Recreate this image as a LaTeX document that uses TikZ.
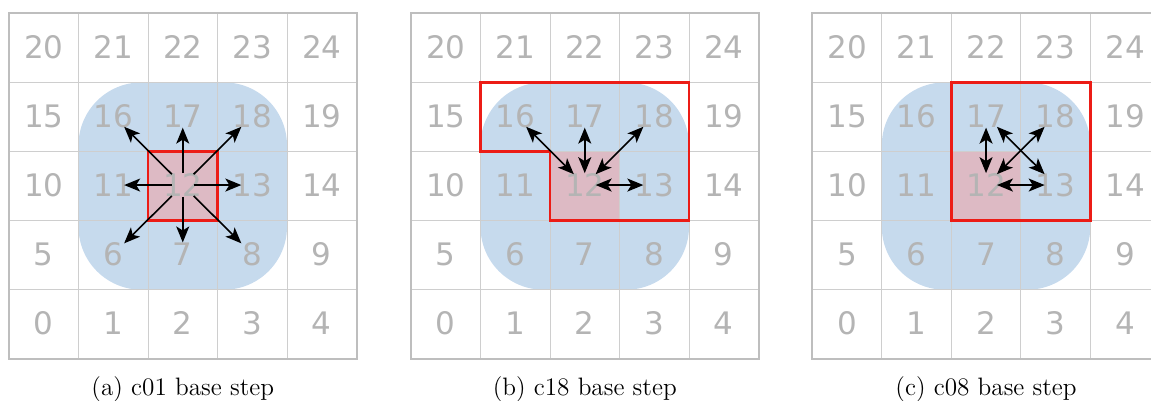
\documentclass[tikz,border=0pt]{standalone}
\usepackage{fontspec}
\newfontfamily\digitfont{DejaVu Sans}
\usetikzlibrary{arrows.meta}

\definecolor{gridline}{RGB}{206,206,206}
\definecolor{gridframe}{RGB}{190,190,190}
\definecolor{digit}{RGB}{180,180,180}
\definecolor{halo}{RGB}{198,218,237}
\definecolor{home}{RGB}{221,186,196}
\definecolor{cellred}{RGB}{236,28,22}

\def\cw{69.5}
\def\ch{69.1}

\tikzset{
  num/.style={inner sep=0pt, minimum width=10.5pt, minimum height=11pt,
    text=digit, font=\digitfont\fontsize{15.5}{15.5}\selectfont},
  cellline/.style={draw=gridline, line width=0.5pt},
  outerframe/.style={draw=gridframe, line width=1pt},
  haloregion/.style={fill=halo, rounded corners=31.5pt},
  homecell/.style={fill=home},
  outline/.style={draw=cellred, line width=1.2pt, line join=miter},
  tiphead/.tip={Stealth[length=8pt, width=6.5pt, inset=2pt]},
  outmove/.style={line width=0.8pt, -tiphead},
  pairmove/.style={line width=0.8pt, tiphead-tiphead},
  captext/.style={anchor=base, font=\fontsize{12.6}{14}\selectfont}
}

% one 5x5 cell grid: #1 = name prefix, #2 = left edge
\newcommand\cellgrid[2]{%
  \begin{scope}[shift={(#2,13.3)}]
    \path[haloregion] (\cw,\ch) rectangle (4*\cw,4*\ch);
    \path[homecell] (2*\cw,2*\ch) rectangle (3*\cw,3*\ch);
    \foreach \i in {1,...,4} {
      \draw[cellline] (\i*\cw,0) -- (\i*\cw,5*\ch);
      \draw[cellline] (0,\i*\ch) -- (5*\cw,\i*\ch);
    }
    \draw[outerframe] (0,0) rectangle (5*\cw,5*\ch);
    \foreach \r in {0,...,4} {
      \foreach \c in {0,...,4} {
        \pgfmathtruncatemacro\n{5*\r+\c}
        \node[num] (#1\n) at ({(\c+0.5)*\cw},{(4.5-\r)*\ch-1}) {\makebox[0pt]{\n}};
      }
    }
  \end{scope}%
}

\begin{document}
\begin{tikzpicture}[x=0.5pt,y=-0.5pt]
  \useasboundingbox (0,0) rectangle (1151,401);
  \clip (0,0) rectangle (1151,401);

  % (a) c01: the home cell pushes to all eight neighbours
  \cellgrid{a}{9}
  \begin{scope}[shift={(9,13.3)}]
    \draw[outline] (2*\cw,2*\ch) rectangle (3*\cw,3*\ch);
    \node[captext] (acap) at (2.5*\cw,381.7) {(a) c01 base step};
  \end{scope}
  \foreach \t in {6,7,8,11,13,16,17,18}
    \draw[outmove] (a12) -- (a\t);

  % (b) c18: half-shell of cells 12, 13, 16, 17, 18
  \cellgrid{b}{411}
  \begin{scope}[shift={(411,13.3)}]
    \draw[outline] (\cw,\ch) -- (4*\cw,\ch) -- (4*\cw,3*\ch) -- (2*\cw,3*\ch)
      -- (2*\cw,2*\ch) -- (\cw,2*\ch) -- cycle;
    \node[captext] (bcap) at (2.5*\cw,381.7) {(b) c18 base step};
  \end{scope}
  \foreach \t in {16,17,18,13}
    \draw[pairmove] (b12) -- (b\t);

  % (c) c08: 2x2 block of cells 12, 13, 17, 18
  \cellgrid{c}{812.3}
  \begin{scope}[shift={(812.3,13.3)}]
    \draw[outline] (2*\cw,\ch) rectangle (4*\cw,3*\ch);
    \node[captext] (ccap) at (2.5*\cw,381.7) {(c) c08 base step};
  \end{scope}
  \draw[pairmove] (c12) -- (c17);
  \draw[pairmove] (c12) -- (c18);
  \draw[pairmove] (c17) -- (c13);
  \draw[pairmove] (c12) -- (c13);
\end{tikzpicture}
\end{document}
